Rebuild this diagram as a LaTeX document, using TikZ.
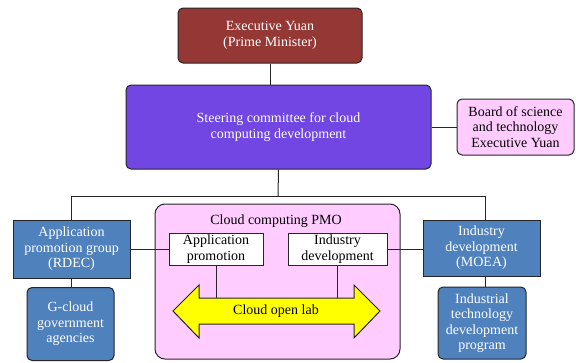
\documentclass[tikz,border=0pt]{standalone}
\usepackage{fontspec}
\setmainfont{Liberation Serif}
\newfontfamily\orgfont{Liberation Serif}
\usetikzlibrary{positioning, calc}
\definecolor{yuanred}{RGB}{149,55,53}
\definecolor{steerpurple}{RGB}{113,70,226}
\definecolor{pmopink}{RGB}{255,204,255}
\definecolor{groupblue}{RGB}{79,129,189}
\definecolor{labyellow}{RGB}{255,255,0}
\tikzset{
	label text/.style={font=\orgfont\fontsize{14}{15.5}\selectfont},
	unit/.style={draw=black!85, line width=1pt, align=center, inner sep=2pt, label text},
	office/.style={unit, rounded corners=5pt},
	group/.style={unit, fill=groupblue, text=white},
	% white boxes inside the PMO
	team/.style={unit, fill=white, line width=0.8pt},
	link/.style={draw=black!85, line width=1pt},
}

\begin{document}
\begin{tikzpicture}[x=1pt, y=-1pt]
		\useasboundingbox (0,0) rectangle (576,362);
		
		\node (exec) [office, fill=yuanred, text=white, minimum width=184pt, minimum height=55pt] at (270,35.5) {Executive Yuan\\(Prime Minister)};
		\node (steer) [office, fill=steerpurple, text=white, minimum width=305pt, minimum height=84pt] at (278.5,127) {Steering committee for cloud\\computing development};
		\node (board) [office, fill=pmopink, minimum width=117pt, minimum height=56pt] at (515.5,127) {Board of science\\and technology\\Executive Yuan};
		
		\node (pmo) [office, fill=pmopink, minimum width=245pt, minimum height=155pt, rounded corners=10pt] at (277.5,281.5) {};
		\node (pmotitle) [label text] at (276,221) {Cloud computing PMO};
		\node (apppro) [team, minimum width=94pt, minimum height=32pt] at (216,249) {Application\\promotion};
		\node (inddev) [team, minimum width=99pt, minimum height=32pt] at (337.5,249) {Industry\\development};
		
		% open lab double arrow
		\draw [fill=labyellow, draw=black!85, line width=1pt] (173,311) -- (199,285) -- (199,298) -- (354,298) -- (354,285) -- (380,311) -- (354,338) -- (354,324) -- (199,324) -- (199,338) -- cycle;
		\node (lab) [label text] at (276,311) {Cloud open lab};
		\coordinate (labtop) at (276,298);
		
		\node (appgrp) [group, minimum width=117pt, minimum height=58pt] at (71.5,249) {Application\\promotion group\\(RDEC)};
		\node (gcloud) [group, rounded corners=5pt, minimum width=87pt, minimum height=73pt] at (70.5,324) {G-cloud\\government\\agencies};
		\node (moea) [group, minimum width=117pt, minimum height=56pt] at (481.5,248) {Industry\\development\\(MOEA)};
		\node (itdp) [group, rounded corners=5pt, minimum width=88pt, minimum height=72pt] at (482,323) {Industrial\\technology\\development\\program};
		
		\coordinate (bus) at (278,196);
		
		\begin{scope}[link]
			\draw (exec.south) -- (exec.south |- steer.north);
			\draw (steer.east) -- (board.west);
			\draw (steer.south) -- (bus);
			\draw (bus) -| (appgrp.north);
			\draw (bus) -| (485,220);
			\draw (appgrp.east) -- (apppro.west);
			\draw (inddev.east) -- (inddev.east -| moea.west);
			\draw (appgrp.south) -- (appgrp.south |- gcloud.north);
			\draw (485,276) -- (485,287);
			\draw (apppro.south) -- (apppro.south |- labtop);
			\draw (inddev.south) -- (inddev.south |- labtop);
		\end{scope}
	\end{tikzpicture}
\end{document}
